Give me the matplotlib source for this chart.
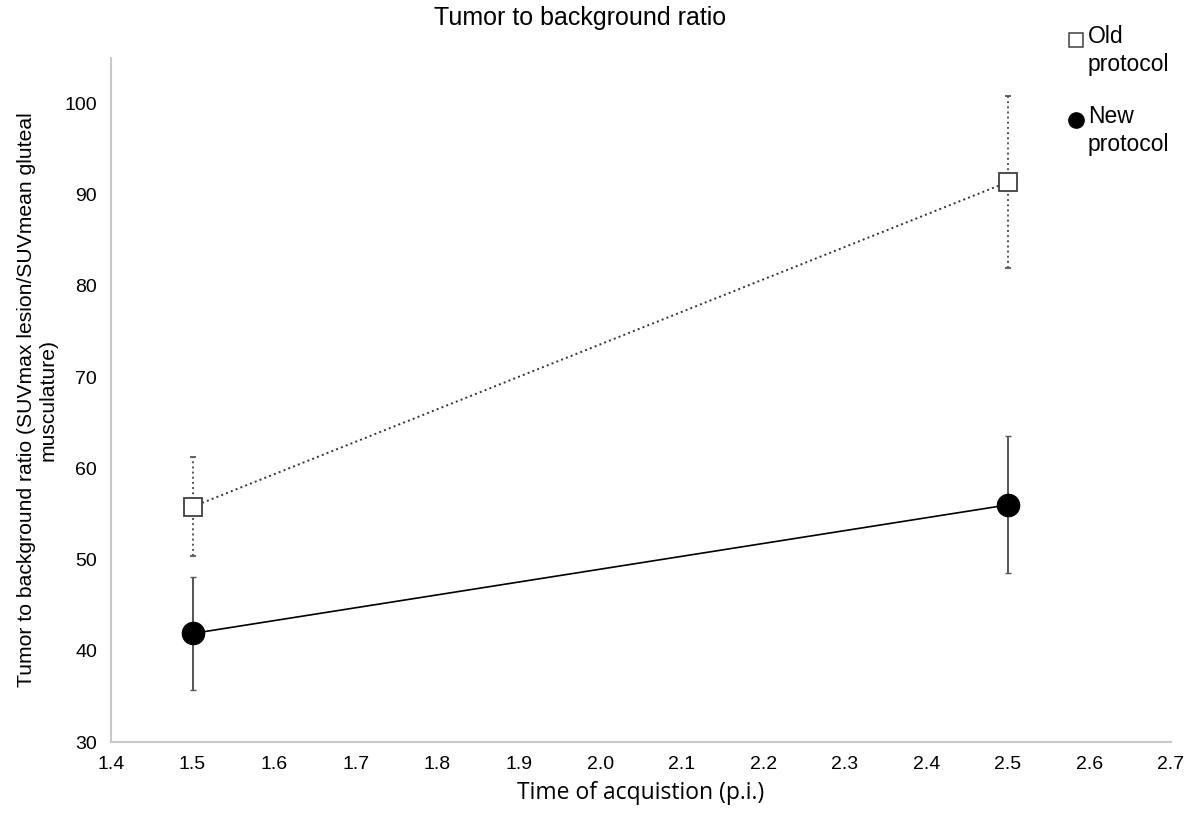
import matplotlib.pyplot as plt
from matplotlib.lines import Line2D

plt.rcParams['font.family'] = ['Liberation Sans', 'DejaVu Sans']

time_pi = [1.5, 2.5]
old_mean = [55.8, 91.4]
old_err = [5.4, 9.4]
new_mean = [41.9, 56.0]
new_err = [6.2, 7.5]
x_ticks = [1.4, 1.5, 1.6, 1.7, 1.8, 1.9, 2.0, 2.1, 2.2, 2.3, 2.4, 2.5, 2.6, 2.7]
y_ticks = [30, 40, 50, 60, 70, 80, 90, 100]
series_names = ['Old\nprotocol', 'New\nprotocol']

fig = plt.figure(figsize=(11.95, 8.13), dpi=100)
ax = fig.add_axes([0.0929, 0.0873, 0.8870, 0.8414])

# old protocol: dotted line, open squares
eb = ax.errorbar(time_pi, old_mean, yerr=old_err, color='#333333', linestyle=':',
                 linewidth=1.4, marker='s', markersize=13, markerfacecolor='white',
                 markeredgecolor='#404040', markeredgewidth=1.3,
                 ecolor='#555555', elinewidth=1.4, capsize=2, zorder=3)
for bar in eb[2]:
    bar.set_linestyle(':')

# new protocol: solid line, filled circles
ax.errorbar(time_pi, new_mean, yerr=new_err, color='black', linestyle='-',
            linewidth=1.2, marker='o', markersize=16, markerfacecolor='black',
            markeredgecolor='black', ecolor='#555555', elinewidth=1.4, capsize=2,
            zorder=3)

ax.set_xlim(1.4, 2.7)
ax.set_ylim(30, 105)
ax.set_xticks(x_ticks)
ax.set_xticklabels([f'{v:.1f}' for v in x_ticks])
ax.set_yticks(y_ticks)
ax.tick_params(length=0, labelsize=14, pad=10)
for s in ['top', 'right']:
    ax.spines[s].set_visible(False)
for s in ['left', 'bottom']:
    ax.spines[s].set_color('#c8c8c8')
    ax.spines[s].set_linewidth(1.5)

ax.set_xlabel('Time of acquistion (p.i.)', fontsize=16.5, family=['Open Sans', 'DejaVu Sans'],
              labelpad=6)
ax.set_ylabel('Tumor to background ratio (SUVmax lesion/SUVmean gluteal\nmusculature)',
              fontsize=15.2, labelpad=5)
fig.text(0.485, 0.978, 'Tumor to background ratio', fontsize=18, ha='center', va='center')

# legend: marker beside first line of each two-line label
legend_keys = [
    dict(marker='s', markersize=10, markerfacecolor='white',
         markeredgecolor='#404040', markeredgewidth=1.1),
    dict(marker='o', markersize=11, markerfacecolor='black', markeredgecolor='black'),
]
for i, (name, key) in enumerate(zip(series_names, legend_keys)):
    yy = 1 - (40 + 80 * i) / 813
    fig.add_artist(Line2D([0.9005], [yy], linestyle='none', transform=fig.transFigure, **key))
    fig.text(0.9105, yy + 0.018, name, fontsize=16.5, ha='left', va='top',
             linespacing=1.25)

fig.savefig('out.png', dpi=100)
